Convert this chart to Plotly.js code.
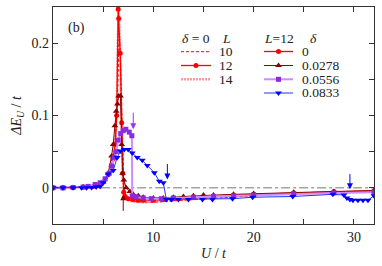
<!DOCTYPE html>
<html>
<head>
<meta charset="utf-8">
<script src="https://cdn.plot.ly/plotly-3.0.1.min.js"></script>
<style>html,body{margin:0;padding:0;background:#fff}#chart{width:382px;height:266px}</style>
</head>
<body>
<div id="chart"></div>
<script>
// ---- data ----
const zeroU = [4.8, 32];
const zeroV = [0, 0];

const uL10 = [0, 1, 2, 3, 4, 4.5, 5, 5.5, 5.8, 6.0, 6.2, 6.4, 6.6, 6.75, 6.9, 7.0, 7.1, 7.3, 7.6, 8, 9, 10, 12, 14, 16, 20, 24, 28, 32];
const vL10 = [0, 0, 0.0005, 0.001, 0.002, 0.003, 0.006, 0.014, 0.028, 0.04, 0.06, 0.11, 0.215, 0.17, 0.08, 0.02, -0.005, -0.013, -0.017, -0.019, -0.02, -0.02, -0.018, -0.016, -0.014, -0.011, -0.008, -0.006, -0.005];

const uL12 = [0, 1, 2, 3, 4, 4.5, 5, 5.5, 5.8, 6.0, 6.2, 6.35, 6.5, 6.55, 6.7, 6.85, 6.95, 7.05, 7.2, 7.5, 8, 8.5, 9, 10, 11, 12, 14, 16, 20, 24, 28, 32];
const vL12 = [0, 0, 0.0005, 0.001, 0.002, 0.003, 0.008, 0.018, 0.03, 0.04, 0.06, 0.1, 0.247, 0.234, 0.186, 0.09, 0.02, -0.006, -0.012, -0.015, -0.016, -0.017, -0.017, -0.017, -0.016, -0.015, -0.013, -0.012, -0.009, -0.007, -0.005, -0.004];

const uL14 = [0, 1, 2, 3, 4, 4.5, 5, 5.5, 5.8, 6.0, 6.2, 6.35, 6.45, 6.55, 6.7, 6.85, 6.95, 7.05, 7.3, 7.6, 8, 9, 10, 12, 14, 16, 20, 24, 28, 32];
const vL14 = [0, 0, 0.0005, 0.001, 0.002, 0.003, 0.007, 0.016, 0.029, 0.042, 0.065, 0.11, 0.2, 0.25, 0.19, 0.08, 0.015, -0.008, -0.015, -0.018, -0.019, -0.02, -0.019, -0.017, -0.015, -0.013, -0.01, -0.008, -0.006, -0.005];

const uD1 = [0, 1, 2, 3, 4, 4.5, 5, 5.5, 5.84, 6.0, 6.17, 6.3, 6.43, 6.55, 6.73, 6.85, 6.93, 7.06, 7.3, 7.66, 8, 8.5, 9, 10, 11, 12, 13, 14, 15, 16, 18, 20, 24, 28, 32];
const vD1 = [0, 0, 0.0005, 0.001, 0.002, 0.004, 0.008, 0.02, 0.044, 0.06, 0.086, 0.106, 0.116, 0.127, 0.127, 0.06, 0.02, 0.011, 0, -0.005, -0.009, -0.011, -0.013, -0.014, -0.014, -0.013, -0.012, -0.011, -0.010, -0.010, -0.009, -0.008, -0.006, -0.005, -0.004];

const uD2 = [0, 1, 2, 3, 3.5, 4.2, 4.7, 5.2, 5.6, 5.84, 6.1, 6.3, 6.5, 6.75, 7.0, 7.26, 7.6, 7.86, 7.9, 8.3, 9, 9.8, 10.8, 12, 14, 16, 18, 20, 24, 28, 32];
const vD2 = [0, 0, 0.0005, 0.001, 0.002, 0.0046, 0.007, 0.0125, 0.02, 0.03, 0.042, 0.05, 0.066, 0.075, 0.079, 0.081, 0.077, 0.072, -0.011, -0.0125, -0.014, -0.015, -0.015, -0.014, -0.013, -0.012, -0.011, -0.010, -0.008, -0.007, -0.006];

const uD3 = [0, 1, 2, 2.85, 3.35, 3.85, 4.3, 4.7, 5.0, 5.5, 6.0, 6.4, 6.73, 7.1, 7.5, 7.9, 8.4, 8.9, 9.4, 10.1, 10.6, 11.0, 11.3, 11.8, 12.5, 13.5, 14.9, 15.9, 17.9, 19.9, 23.9, 27.9, 29.0, 29.3, 29.6, 29.9, 30.4, 30.9, 31.4, 32];
const vD3 = [0, 0, 0, 0, 0, 0.0005, 0.001, 0.002, 0.007, 0.019, 0.024, 0.042, 0.051, 0.053, 0.053, 0.048, 0.042, 0.038, 0.031, 0.021, 0.009, 0.007, -0.016, -0.016, -0.016, -0.016, -0.016, -0.016, -0.015, -0.013, -0.012, -0.009, -0.010, -0.014, -0.016, -0.017, -0.017, -0.017, -0.017, -0.011];

// arrows (U position, tip value, tail value, colour)
const arrowU    = [8.0, 7.0, 11.4, 29.6];
const arrowTip  = [0.081, -0.009, 0.0115, -0.002];
const arrowTail = [0.106, -0.034, 0.035, 0.021];
const arrowCol  = ['#9933ff', '#8b0000', '#0000ff', '#0000ff'];

const xTickVals = [0, 5, 10, 15, 20, 25, 30];
const xTickText = ['0', '', '10', '', '20', '', '30'];
const yTickVals = [0, 0.05, 0.1, 0.15, 0.2];
const yTickText = ['0', '', '0.1', '', '0.2'];

const legL = ['10', '12', '14'];
const legD = ['0', '0.0278', '0.0556', '0.0833'];

// ---- styles ----
const FONT = 'Liberation Serif, Times New Roman, serif';
const TXT = '#222';
const W = 382, H = 266, ML = 53, MR = 8, MT = 7, MB = 42;
const PW = W - ML - MR, PH = H - MT - MB;
const px2x = p => (p - ML) / PW;
const py2y = p => (H - MB - p) / PH;

const sL10 = {line: {color: '#ff0000', width: 1, dash: '3px,2px'}, mode: 'lines'};
const sL12 = {line: {color: '#ff0000', width: 1.3}, marker: {color: '#ff0000', size: 5, symbol: 'circle'}, mode: 'lines+markers'};
const sL14 = {line: {color: '#ff9a9a', width: 2.4, dash: '2px,1px'}, mode: 'lines'};
const sD1 = {line: {color: '#8b0000', width: 1}, marker: {color: '#8b0000', size: 6, symbol: 'triangle-up'}, mode: 'lines+markers'};
const sD2 = {line: {color: '#cc8cff', width: 2}, marker: {color: '#8a2be2', size: 5, symbol: 'square'}, mode: 'lines+markers'};
const sD3 = {line: {color: '#2233ff', width: 1}, marker: {color: '#0000ff', size: 6, symbol: 'triangle-down'}, mode: 'lines+markers'};

function tr(x, y, s, extra) {
  return Object.assign({x: x, y: y, type: 'scatter', showlegend: false, hoverinfo: 'skip'}, JSON.parse(JSON.stringify(s)), extra || {});
}

const traces = [
  tr(zeroU, zeroV, {mode: 'lines', line: {color: '#777', width: 1, dash: 'dashdot'}}),
  tr(uL14, vL14, sL14),
  tr(uL10, vL10, sL10),
  tr(uL12, vL12, sL12),
  tr(uD1, vD1, sD1),
  tr(uD2, vD2, sD2),
  tr(uD3, vD3, sD3)
];

// legend samples on hidden overlay axes (0..1 over the plot area)
const LF = {family: FONT, size: 13.5, color: TXT};
const annotations = [];
const leftRows = [51.7, 65.5, 79.2];
const leftStyles = [sL10, sL12, sL14];
leftRows.forEach((py, i) => {
  const s = leftStyles[i];
  traces.push(tr([px2x(181), px2x(211)], [py2y(py), py2y(py)], s, {mode: 'lines', xaxis: 'x2', yaxis: 'y2'}));
  if (s.marker) traces.push(tr([px2x(196)], [py2y(py)], s, {mode: 'markers', xaxis: 'x2', yaxis: 'y2'}));
  annotations.push({xref: 'paper', yref: 'paper', x: px2x(218), y: py2y(py), xanchor: 'left', yanchor: 'middle', text: legL[i], showarrow: false, font: LF, borderpad: 0});
});
const rightRows = [51.5, 65.5, 79.3, 93.0];
const rightStyles = [sL12, sD1, sD2, sD3];
rightRows.forEach((py, i) => {
  const s = rightStyles[i];
  traces.push(tr([px2x(264), px2x(293)], [py2y(py), py2y(py)], s, {mode: 'lines', xaxis: 'x2', yaxis: 'y2'}));
  traces.push(tr([px2x(278.5)], [py2y(py)], s, {mode: 'markers', xaxis: 'x2', yaxis: 'y2'}));
  annotations.push({xref: 'paper', yref: 'paper', x: px2x(300.5), y: py2y(py), xanchor: 'left', yanchor: 'middle', text: legD[i], showarrow: false, font: LF, borderpad: 0});
});
const hdr = (px, text) => ({xref: 'paper', yref: 'paper', x: px2x(px), y: py2y(38.0), xanchor: 'left', yanchor: 'middle', text: text, showarrow: false, font: LF, borderpad: 0});
annotations.push(hdr(181, '<i>δ</i> = 0'));
annotations.push(hdr(221, '<i>L</i>'));
annotations.push(hdr(263, '<i>L</i>=12'));
annotations.push(hdr(309, '<i>δ</i>'));
annotations.push({xref: 'paper', yref: 'paper', x: px2x(66), y: py2y(28), xanchor: 'left', yanchor: 'middle', text: '(b)', showarrow: false, font: {family: FONT, size: 14, color: TXT}});

arrowU.forEach((u, i) => {
  annotations.push({xref: 'x', yref: 'y', axref: 'x', ayref: 'y', x: u, y: arrowTip[i], ax: u, ay: arrowTail[i], text: '', showarrow: true, arrowhead: 2, arrowsize: 1.2, arrowwidth: 1, arrowcolor: arrowCol[i], standoff: 0, startstandoff: 0});
});

const axisCommon = {
  showline: true, linecolor: '#333', linewidth: 1.3, mirror: 'ticks',
  ticks: 'inside', ticklen: 5, tickwidth: 1, tickcolor: '#333',
  showgrid: false, zeroline: false,
  tickfont: {family: FONT, size: 14, color: TXT}
};

const layout = {
  width: W, height: H,
  margin: {l: ML, r: MR, t: MT, b: MB},
  paper_bgcolor: '#fff', plot_bgcolor: '#fff',
  showlegend: false,
  xaxis: Object.assign({}, axisCommon, {
    range: [0, 32], tickmode: 'array', tickvals: xTickVals, ticktext: xTickText,
    title: {text: '<i>U</i> / <i>t</i>', font: {family: FONT, size: 14, color: TXT}, standoff: 4}
  }),
  yaxis: Object.assign({}, axisCommon, {
    range: [-0.05, 0.25], tickmode: 'array', tickvals: yTickVals, ticktext: yTickText,
    title: {text: '<i>ΔE</i><sub><i>U</i></sub> / <i>t</i>', font: {family: FONT, size: 14, color: TXT}, standoff: 6}
  }),
  xaxis2: {overlaying: 'x', range: [0, 1], visible: false, fixedrange: true},
  yaxis2: {overlaying: 'y', range: [0, 1], visible: false, fixedrange: true},
  annotations: annotations
};

Plotly.newPlot('chart', traces, layout, {displayModeBar: false, staticPlot: true});
</script>
</body>
</html>
